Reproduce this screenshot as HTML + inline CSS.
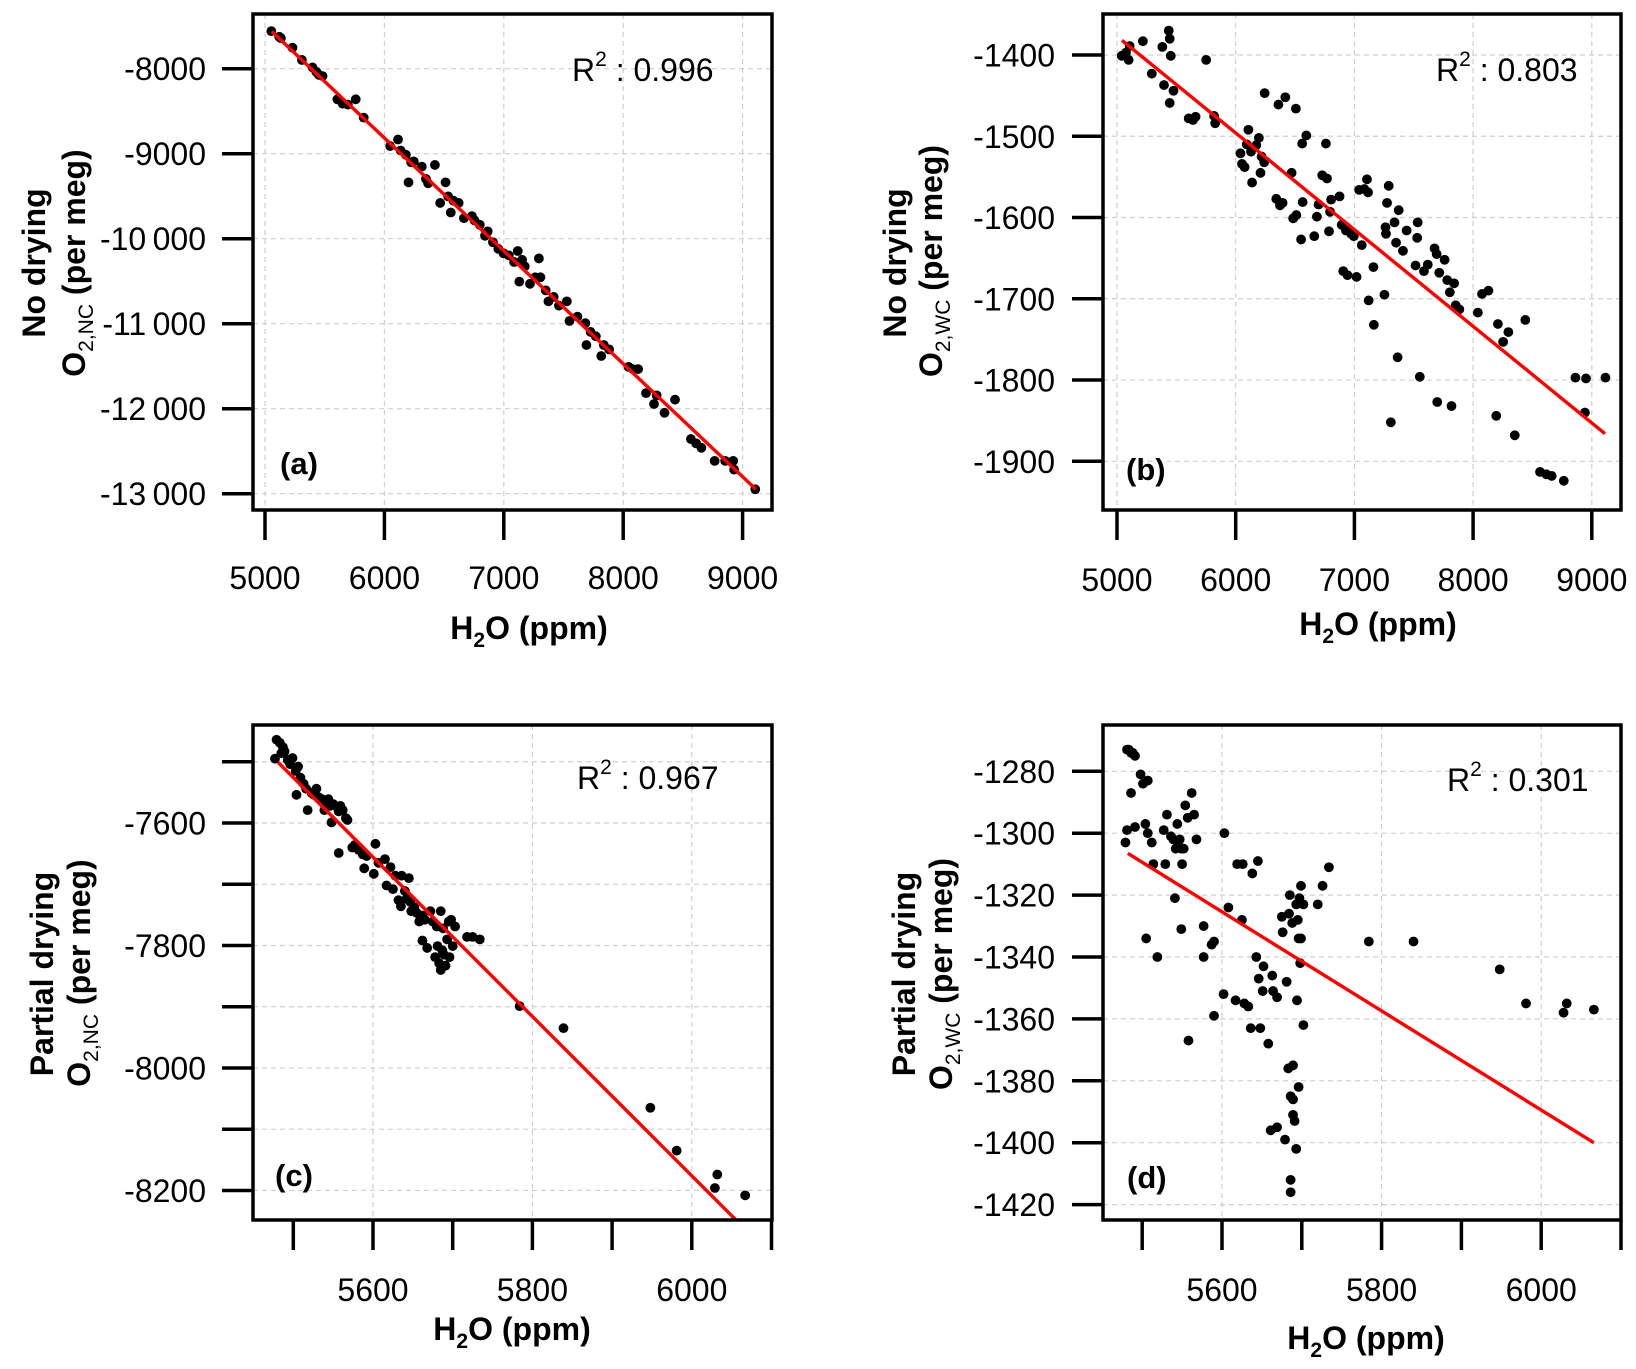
<!DOCTYPE html>
<html><head><meta charset="utf-8">
<style>
html,body{margin:0;padding:0;background:#fff;overflow:hidden;}
svg{display:block;font-family:"Liberation Sans",Arial,sans-serif;}
</style></head>
<body>
<svg id="chart" width="1636" height="1369" viewBox="0 0 1636 1369" xmlns="http://www.w3.org/2000/svg"></svg>
<script>
// ---- Panel (a) data ----
const aX = [5053,5119,5133,5230,5309,5398,5429,5451,5482,5606,5650,5694,5760,5827,6048,6114,6136,6180,6202,6224,6246,6313,6348,6366,6423,6467,6512,6534,6556,6578,6622,6666,6733,6755,6799,6843,6865,6909,6954,6998,7042,7086,7117,7130,7153,7175,7219,7263,7294,7307,7351,7374,7418,7462,7528,7550,7617,7683,7692,7727,7771,7816,7838,7882,8045,8081,8125,8191,8258,8280,8346,8434,8567,8611,8655,8766,8854,8921,8929,9106];
const aY = [-7558,-7624,-7640,-7753,-7897,-7985,-8036,-8072,-8087,-8360,-8412,-8422,-8360,-8576,-8910,-8833,-8962,-9013,-9337,-9101,-9091,-9152,-9296,-9348,-9132,-9579,-9337,-9502,-9692,-9553,-9579,-9759,-9734,-9785,-9836,-9965,-9914,-10042,-10119,-10171,-10196,-10274,-10145,-10505,-10248,-10325,-10531,-10454,-10232,-10454,-10608,-10737,-10685,-10788,-10737,-10968,-10917,-10994,-11251,-11097,-11148,-11380,-11251,-11302,-11508,-11534,-11534,-11817,-11945,-11843,-12048,-11894,-12357,-12408,-12460,-12614,-12614,-12614,-12717,-12948];
const aFitX = [5057,9110];
const aFitY = [-7562,-12946];
const aXTicks = [5000,6000,7000,8000,9000];
const aYTicks = [-8000,-9000,-10000,-11000,-12000,-13000];
const aYLabels = ["-8000","-9000","-10\u2009000","-11\u2009000","-12\u2009000","-13\u2009000"];

// ---- Panel (b) data ----
const bX = [5040,5076,5098,5107,5218,5293,5382,5396,5436,5444,5444,5453,5476,5604,5640,5662,5751,5818,5827,6040,6053,6075,6093,6107,6129,6138,6173,6195,6209,6218,6240,6244,6342,6360,6373,6395,6418,6471,6484,6507,6511,6551,6560,6564,6595,6662,6684,6698,6729,6760,6769,6786,6795,6804,6875,6893,6906,6929,6942,6973,6995,7018,7040,7062,7084,7106,7115,7120,7160,7164,7253,7262,7266,7275,7289,7307,7338,7351,7364,7373,7409,7440,7515,7529,7533,7551,7586,7618,7675,7693,7698,7715,7760,7782,7804,7818,7840,7853,7884,8040,8075,8129,8195,8209,8253,8297,8351,8440,8564,8617,8662,8764,8862,8942,8951,9115];
const bY = [-1401,-1397,-1406,-1389,-1383,-1423,-1390,-1437,-1370,-1380,-1459,-1401,-1444,-1478,-1480,-1476,-1406,-1475,-1484,-1521,-1534,-1538,-1510,-1492,-1519,-1557,-1511,-1502,-1545,-1525,-1532,-1447,-1577,-1461,-1585,-1582,-1452,-1545,-1601,-1466,-1597,-1627,-1509,-1581,-1499,-1623,-1599,-1584,-1548,-1509,-1552,-1617,-1593,-1578,-1574,-1609,-1666,-1616,-1671,-1620,-1623,-1673,-1566,-1634,-1565,-1553,-1569,-1702,-1661,-1732,-1695,-1612,-1620,-1582,-1561,-1852,-1606,-1631,-1772,-1591,-1641,-1616,-1659,-1625,-1606,-1796,-1666,-1658,-1638,-1645,-1827,-1668,-1652,-1677,-1692,-1832,-1681,-1708,-1713,-1717,-1694,-1690,-1844,-1731,-1753,-1741,-1868,-1726,-1913,-1916,-1918,-1924,-1797,-1840,-1798,-1797];
const bFitX = [5042,9111];
const bFitY = [-1382,-1866];
const bXTicks = [5000,6000,7000,8000,9000];
const bYTicks = [-1400,-1500,-1600,-1700,-1800,-1900];
const bYLabels = ["-1400","-1500","-1600","-1700","-1800","-1900"];

// ---- Panel (c) data ----
const cX = [5477,5479,5483,5485,5487,5489,5493,5496,5499,5503,5504,5506,5509,5513,5516,5518,5523,5526,5529,5532,5536,5539,5541,5544,5546,5548,5550,5556,5557,5559,5562,5566,5568,5557,5574,5577,5582,5587,5589,5592,5601,5603,5607,5615,5617,5622,5625,5628,5632,5635,5636,5640,5642,5645,5647,5648,5652,5655,5658,5662,5662,5665,5668,5672,5675,5678,5680,5681,5683,5685,5685,5687,5688,5689,5691,5693,5695,5696,5698,5700,5703,5718,5725,5734,5784,5839,5948,5981,6029,6032,6067];
const cY = [-7495,-7464,-7469,-7486,-7476,-7483,-7497,-7504,-7494,-7515,-7554,-7508,-7526,-7536,-7544,-7579,-7551,-7554,-7544,-7558,-7561,-7579,-7565,-7561,-7572,-7599,-7569,-7576,-7581,-7572,-7579,-7592,-7595,-7649,-7640,-7636,-7644,-7651,-7674,-7654,-7683,-7634,-7665,-7659,-7702,-7672,-7708,-7686,-7726,-7736,-7686,-7711,-7724,-7690,-7729,-7744,-7738,-7747,-7761,-7751,-7792,-7758,-7804,-7744,-7761,-7819,-7769,-7801,-7829,-7744,-7840,-7808,-7772,-7815,-7833,-7790,-7761,-7819,-7758,-7801,-7769,-7786,-7786,-7790,-7899,-7935,-8065,-8135,-8196,-8174,-8208];
const cFitX = [5481,6056];
const cFitY = [-7501,-8249];
const cXTicks = [5500,5600,5700,5800,5900,6000,6100];
const cXLabels = ["","5600","","5800","","6000",""];
const cXGrid = [5600,5800,6000];
const cYTicks = [-7500,-7600,-7700,-7800,-7900,-8000,-8100,-8200];
const cYLabels = ["","-7600","","-7800","","-8000","","-8200"];

// ---- Panel (d) data ----
const dX = [5479,5481,5483,5486,5488,5491,5481,5486,5491,5498,5501,5507,5504,5507,5512,5505,5514,5519,5527,5529,5531,5536,5539,5541,5542,5544,5545,5547,5549,5549,5550,5552,5554,5557,5558,5562,5565,5568,5577,5577,5587,5590,5590,5602,5603,5608,5617,5619,5625,5626,5628,5633,5636,5638,5643,5645,5646,5648,5651,5652,5658,5661,5663,5664,5669,5669,5675,5676,5679,5681,5683,5684,5685,5686,5686,5686,5688,5689,5689,5689,5691,5693,5693,5694,5695,5696,5696,5697,5698,5699,5699,5702,5702,5720,5726,5734,5784,5840,5948,5981,6028,6032,6066];
const dY = [-1303,-1273,-1273,-1274,-1274,-1275,-1299,-1287,-1298,-1281,-1284,-1283,-1297,-1300,-1303,-1334,-1310,-1340,-1299,-1310,-1294,-1301,-1302,-1321,-1305,-1297,-1303,-1302,-1305,-1331,-1310,-1305,-1291,-1295,-1367,-1287,-1294,-1302,-1330,-1340,-1336,-1335,-1359,-1352,-1300,-1324,-1354,-1310,-1328,-1310,-1355,-1356,-1363,-1313,-1340,-1309,-1347,-1363,-1351,-1343,-1368,-1396,-1346,-1351,-1395,-1353,-1327,-1332,-1399,-1348,-1376,-1326,-1320,-1385,-1412,-1416,-1329,-1386,-1391,-1375,-1393,-1402,-1323,-1354,-1328,-1334,-1382,-1321,-1342,-1317,-1334,-1323,-1362,-1323,-1317,-1311,-1335,-1335,-1344,-1355,-1358,-1355,-1357];
const dFitX = [5482,6066];
const dFitY = [-1306.5,-1400];
const dXTicks = [5500,5600,5700,5800,5900,6000,6100];
const dXLabels = ["","5600","","5800","","6000",""];
const dXGrid = [5600,5800,6000];
const dYTicks = [-1280,-1300,-1320,-1340,-1360,-1380,-1400,-1420];
const dYLabels = ["-1280","-1300","-1320","-1340","-1360","-1380","-1400","-1420"];

const NS = "http://www.w3.org/2000/svg";
const svg = document.getElementById("chart");
function mk(tag, attrs, parent){ const e=document.createElementNS(NS,tag); for(const k in attrs) e.setAttribute(k,attrs[k]); (parent||svg).appendChild(e); return e; }

const panels = [
 {id:"a", box:[253,14,772,510], x0:5000,px0:265,xs:0.1194, y0:-8000,py0:68.7,ys:0.0850,
  X:aX,Y:aY,fx:aFitX,fy:aFitY,xt:aXTicks,xl:aXTicks.map(String),xg:aXTicks,yt:aYTicks,yl:aYLabels,yg:aYTicks,
  xlY:589, xtitle:[529,639], ylabR:206, t1:["No drying",34,263], t2:[74,263], sub:"2,NC", r2:[572,81,"0.996"], lab:["(a)",280,474]},
 {id:"b", box:[1103,14,1621,510], x0:5000,px0:1117,xs:0.1187, y0:-1400,py0:55.0,ys:0.8126,
  X:bX,Y:bY,fx:bFitX,fy:bFitY,xt:bXTicks,xl:bXTicks.map(String),xg:bXTicks,yt:bYTicks,yl:bYLabels,yg:bYTicks,
  xlY:591, xtitle:[1378,635], ylabR:1055, t1:["No drying",895,263], t2:[931,261], sub:"2,WC", r2:[1436,81,"0.803"], lab:["(b)",1126,480]},
 {id:"c", box:[253,725,772,1220], x0:5600,px0:373,xs:0.797, y0:-7600,py0:823,ys:0.6124,
  X:cX,Y:cY,fx:cFitX,fy:cFitY,xt:cXTicks,xl:cXLabels,xg:cXGrid,yt:cYTicks,yl:cYLabels,yg:cYTicks,
  xlY:1301, xtitle:[512,1340], ylabR:206, t1:["Partial drying",42,974], t2:[79,973], sub:"2,NC", r2:[577,789,"0.967"], lab:["(c)",275,1186]},
 {id:"d", box:[1103,725,1621,1220], x0:5600,px0:1222,xs:0.798, y0:-1280,py0:771.3,ys:3.095,
  X:dX,Y:dY,fx:dFitX,fy:dFitY,xt:dXTicks,xl:dXLabels,xg:dXGrid,yt:dYTicks,yl:dYLabels,yg:dYTicks,
  xlY:1301, xtitle:[1366,1349], ylabR:1055, t1:["Partial drying",904,974], t2:[941,974], sub:"2,WC", r2:[1447,791,"0.301"], lab:["(d)",1127,1188]}
];

panels.forEach(p=>{
  const sx = v => p.px0 + (v - p.x0)*p.xs;
  const sy = v => p.py0 - (v - p.y0)*p.ys;
  const [L,T,R,B] = p.box;
  const g = mk("g",{});
  
  
  const clipId = "clip-"+p.id;
  const cp = mk("clipPath",{id:clipId},g); mk("rect",{x:L,y:T,width:R-L,height:B-T},cp);
  p.xg.forEach(v=>{ const l=mk("line",{x1:sx(v),x2:sx(v),y1:T,y2:B,stroke:"#cfcfcf","stroke-width":1.2,"stroke-dasharray":"5,4"},g);
    
     });
  p.yg.forEach(v=>{ const l=mk("line",{x1:L,x2:R,y1:sy(v),y2:sy(v),stroke:"#cfcfcf","stroke-width":1.2,"stroke-dasharray":"5,4"},g);
    
     });
  const pts = mk("g",{"clip-path":"url(#"+clipId+")"},g);
  
  
  p.X.forEach((v,i)=>{ const c=mk("circle",{cx:sx(v),cy:sy(p.Y[i]),r:4.9,fill:"#000"},pts);
    
     });
  const fl = mk("line",{x1:sx(p.fx[0]),y1:sy(p.fy[0]),x2:sx(p.fx[1]),y2:sy(p.fy[1]),stroke:"#ff0000","stroke-width":3.4},g);
  
  
  const bx = mk("rect",{x:L,y:T,width:R-L,height:B-T,fill:"none",stroke:"#000","stroke-width":3.5},g);
  
  
  p.xt.forEach((v,i)=>{ const t=mk("line",{x1:sx(v),x2:sx(v),y1:B,y2:B+30,stroke:"#000","stroke-width":3.5},g);
    
    
    if(p.xl[i]){ const tx=mk("text",{x:sx(v),y:p.xlY,"text-anchor":"middle","font-size":32,fill:"#000"},g); tx.textContent=p.xl[i];
      
       } });
  p.yt.forEach((v,i)=>{ const t=mk("line",{x1:L-31,x2:L,y1:sy(v),y2:sy(v),stroke:"#000","stroke-width":3.5},g);
    
    
    if(p.yl[i]){ const tx=mk("text",{x:p.ylabR,y:sy(v)+11.5,"text-anchor":"end","font-size":32,fill:"#000"},g); tx.textContent=p.yl[i];
      
       } });
  const xt = mk("text",{x:p.xtitle[0],y:p.xtitle[1],"text-anchor":"middle","font-size":32,"font-weight":"bold",fill:"#000"},g);
  xt.innerHTML = 'H<tspan font-size="21" dy="8">2</tspan><tspan dy="-8">O (ppm)</tspan>';
  
  
  const y1 = mk("text",{x:0,y:0,"text-anchor":"middle","font-size":32,"font-weight":"bold",fill:"#000",transform:"translate("+(p.t1[1]+11)+","+p.t1[2]+") rotate(-90)"},g);
  y1.textContent = p.t1[0];
  
  
  const y2 = mk("text",{x:0,y:0,"text-anchor":"middle","font-size":32,"font-weight":"bold",fill:"#000",transform:"translate("+(p.t2[0]+11)+","+p.t2[1]+") rotate(-90)"},g);
  y2.innerHTML = 'O<tspan font-size="21" font-weight="normal" dy="8">'+p.sub+'</tspan><tspan dy="-8"> (per meg)</tspan>';
  
  
  const r = mk("text",{x:p.r2[0],y:p.r2[1],"font-size":32,fill:"#000"},g);
  r.innerHTML = 'R<tspan font-size="21" dy="-15">2</tspan><tspan dy="15"> : '+p.r2[2]+'</tspan>';
  
  
  const lb = mk("text",{x:p.lab[1],y:p.lab[2],"font-size":31,"font-weight":"bold",fill:"#000"},g);
  lb.textContent = p.lab[0];
  
  
});
</script>
</body></html>
